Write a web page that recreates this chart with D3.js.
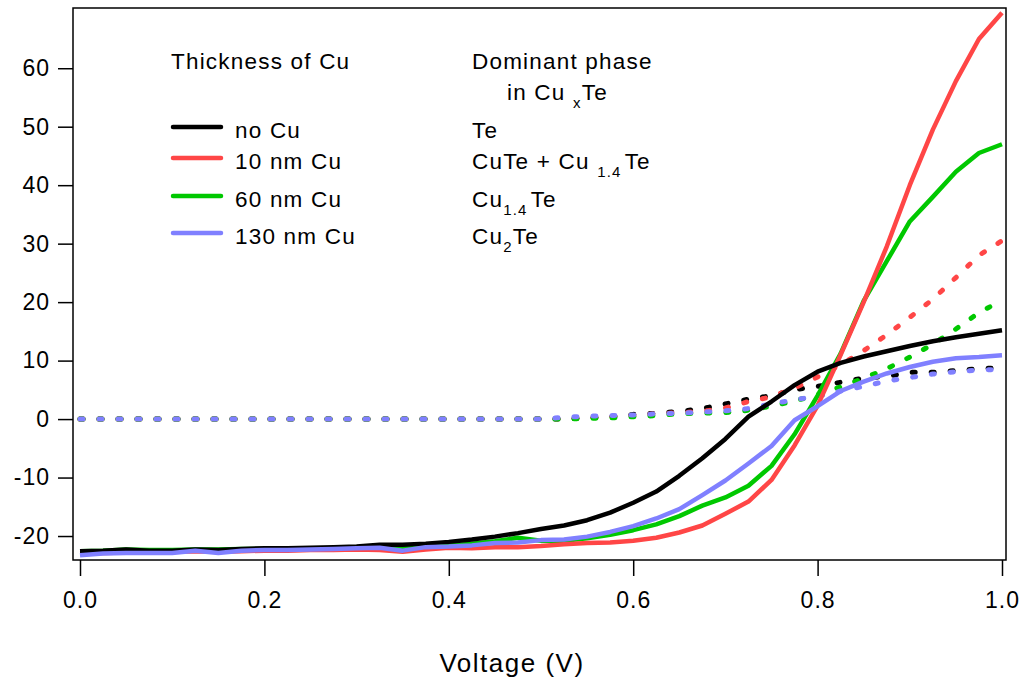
<!DOCTYPE html>
<html>
<head>
<meta charset="utf-8">
<script src="https://cdn.jsdelivr.net/npm/d3@7"></script>
<style>
  body { margin: 0; background: #fff; }
  svg text { font-family: "Liberation Sans", Arial, sans-serif; fill: #000; }
</style>
</head>
<body>
<script>
// J-V curves, light (solid) and dark (dotted), for each Cu thickness

var volts = [0, 0.025, 0.05, 0.075, 0.1, 0.125, 0.15, 0.175, 0.2, 0.225,
             0.25, 0.275, 0.3, 0.325, 0.35, 0.375, 0.4, 0.425, 0.45, 0.475,
             0.5, 0.525, 0.55, 0.575, 0.6, 0.625, 0.65, 0.675, 0.7, 0.725,
             0.75, 0.775, 0.8, 0.825, 0.85, 0.875, 0.9, 0.925, 0.95, 0.975, 1.0];

// light curves
var noCuLight = [-22.6, -22.5, -22.3, -22.5, -22.5, -22.3, -22.4, -22.2, -22.1, -22.1,
                 -22.0, -21.9, -21.8, -21.5, -21.5, -21.3, -21.0, -20.6, -20.1, -19.5,
                 -18.8, -18.2, -17.3, -16.0, -14.3, -12.4, -9.7, -6.7, -3.4, 0.4,
                 3.0, 5.8, 8.1, 9.6, 10.7, 11.6, 12.5, 13.3, 14.0, 14.6, 15.2];
var cu10Light = [-23.0, -22.9, -22.8, -22.8, -22.7, -22.6, -22.7, -22.6, -22.5, -22.5,
                 -22.4, -22.4, -22.3, -22.4, -22.7, -22.3, -22.0, -22.1, -21.9, -21.9,
                 -21.7, -21.4, -21.2, -21.1, -20.8, -20.3, -19.4, -18.2, -16.2, -14.1,
                 -10.4, -4.5, 2.3, 11.0, 20.0, 29.5, 40.0, 49.5, 57.8, 65.0, 69.5];
var cu60Light = [-22.6, -22.5, -22.3, -22.4, -22.4, -22.3, -22.3, -22.2, -22.2, -22.2,
                 -22.1, -22.1, -22.0, -21.9, -22.0, -21.8, -21.6, -21.3, -20.9, -20.3,
                 -20.8, -20.8, -20.4, -19.8, -19.0, -18.0, -16.6, -14.8, -13.4, -11.4,
                 -8.0, -2.6, 4.0, 11.2, 20.2, 27.0, 33.8, 38.0, 42.3, 45.5, 47.0];
var cu130Light = [-23.3, -23.0, -22.9, -22.9, -22.9, -22.5, -22.9, -22.5, -22.4, -22.4,
                  -22.3, -22.2, -22.1, -22.0, -22.5, -21.9, -21.8, -21.6, -21.2, -21.1,
                  -20.7, -20.6, -20.1, -19.3, -18.3, -17.0, -15.4, -13.0, -10.5, -7.6,
                  -4.6, -0.2, 2.2, 4.8, 6.4, 7.8, 8.9, 9.8, 10.4, 10.6, 10.9];

// dark curves
var noCuDark = [0, 0, 0, 0, 0, 0, 0, 0, 0, 0,
                0, 0, 0, 0, 0, 0, 0, 0, 0, 0,
                0, 0.0, 0.2, 0.4, 0.8, 1.0, 1.3, 1.8, 2.6, 3.4,
                4.0, 5.0, 5.6, 6.3, 7.0, 7.3, 8.0, 8.0, 8.3, 8.6, 8.8];
var cu10Dark = [0, 0, 0, 0, 0, 0, 0, 0, 0, 0,
                0, 0, 0, 0, 0, 0, 0, 0, 0, 0,
                0, 0.1, 0.2, 0.4, 0.6, 0.9, 1.1, 1.3, 1.9, 3.0,
                3.8, 5.3, 7.2, 9.3, 11.7, 14.4, 17.4, 20.5, 24.2, 28.0, 30.5];
var cu60Dark = [0, 0, 0, 0, 0, 0, 0, 0, 0, 0,
                0, 0, 0, 0, 0, 0, 0, 0, 0, 0,
                0, 0.0, 0.1, 0.2, 0.4, 0.6, 0.9, 1.0, 1.1, 1.5,
                2.2, 3.1, 4.2, 5.5, 7.0, 8.6, 10.6, 12.8, 15.4, 18.2, 20.3];
var cu130Dark = [0, 0, 0, 0, 0, 0, 0, 0, 0, 0,
                 0, 0, 0, 0, 0, 0, 0, 0, 0, 0,
                 0, 0.3, 0.5, 0.6, 0.7, 0.9, 1.0, 1.2, 1.4, 1.8,
                 2.6, 3.3, 3.9, 4.8, 5.6, 6.5, 7.1, 7.7, 8.1, 8.4, 8.5];

var seriesNames = ['no Cu', '10 nm Cu', '60 nm Cu', '130 nm Cu'];
var seriesColors = ['#000000', '#ff4646', '#00c800', '#8080ff'];
var xTicks = [0, 0.2, 0.4, 0.6, 0.8, 1.0];
var yTicks = [-20, -10, 0, 10, 20, 30, 40, 50, 60];

var width = 1021;
var height = 680;

var svg = d3.select('body').append('svg')
            .attr('width', width)
            .attr('height', height);

var x = d3.scaleLinear().domain([0, 1]).range([80, 1002]);
var y = d3.scaleLinear().domain([-24.1, 70.3]).range([560, 8]);

var line = d3.line()
             .x(function(d) { return x(d[0]); })
             .y(function(d) { return y(d[1]); });

var pairs = function(vals) {
  return vals.map(function(v, i) { return [volts[i], v]; });
};

// dark curves first (dotted), blue ends up on top at 0
var dark = [noCuDark, cu10Dark, cu60Dark, cu130Dark];
dark.forEach(function(vals, i) {
  svg.append('path')
     .attr('d', line(pairs(vals)))
     .attr('fill', 'none')
     .attr('stroke', seriesColors[i])
     .attr('stroke-width', 5)
     .attr('stroke-linecap', 'round')
     .attr('stroke-dasharray', '3 16');
});

// light curves
var light = [cu60Light, cu10Light, noCuLight, cu130Light];
var lightColors = [seriesColors[2], seriesColors[1], seriesColors[0], seriesColors[3]];
light.forEach(function(vals, i) {
  svg.append('path')
     .attr('d', line(pairs(vals)))
     .attr('fill', 'none')
     .attr('stroke', lightColors[i])
     .attr('stroke-width', 4.5)
     .attr('stroke-linejoin', 'round');
});

// frame
svg.append('rect')
   .attr('x', 73).attr('y', 8)
   .attr('width', 933).attr('height', 552)
   .attr('fill', 'none')
   .attr('stroke', '#000')
   .attr('stroke-width', 1.5);

// axes (plain hyphen for negatives, like the original)
var yAxis = svg.append('g')
               .attr('transform', 'translate(73,0)')
               .call(d3.axisLeft(y).tickValues(yTicks).tickSize(15).tickPadding(8)
                       .tickFormat(function(d) { return String(d); }));
var xAxis = svg.append('g')
               .attr('transform', 'translate(0,560)')
               .call(d3.axisBottom(x).tickValues(xTicks).tickSize(16).tickPadding(16)
                       .tickFormat(d3.format('.1f')));

[yAxis, xAxis].forEach(function(ax) {
  ax.select('.domain').remove();
  ax.selectAll('line').attr('stroke', '#000').attr('stroke-width', 1.5);
  ax.selectAll('text')
    .style('font-size', '23px')
    .style('letter-spacing', '1px')
    .style('font-family', '"Liberation Sans", Arial, sans-serif')
    .attr('fill', '#000');
});

svg.append('text')
   .attr('x', 512).attr('y', 672)
   .attr('text-anchor', 'middle')
   .style('font-size', '26px')
   .style('letter-spacing', '1.5px')
   .text('Voltage (V)');

// legend
var legend = svg.append('g')
                .style('font-size', '22.5px')
                .style('letter-spacing', '1.2px');

legend.append('text').attr('x', 171).attr('y', 69).text('Thickness of Cu');
legend.append('text').attr('x', 472).attr('y', 69).text('Dominant phase');

var sub = function(t, parts) {
  parts.forEach(function(p) {
    t.append('tspan')
     .attr('dy', p[1])
     .attr('dx', p[2] || 0)
     .style('font-size', p[1] > 0 ? '15px' : null)
     .text(p[0]);
  });
};

sub(legend.append('text').attr('x', 507).attr('y', 100),
    [['in Cu ', 0], ['x', 8], ['Te', -8]]);

var rowY = [138, 169, 207, 244];
var lineY = [127, 158, 196, 233];

seriesNames.forEach(function(name, i) {
  legend.append('line')
        .attr('x1', 173).attr('x2', 221)
        .attr('y1', lineY[i]).attr('y2', lineY[i])
        .attr('stroke', seriesColors[i])
        .attr('stroke-width', 4.5)
        .attr('stroke-linecap', 'round');
  legend.append('text').attr('x', 235).attr('y', rowY[i]).text(name);
});

legend.append('text').attr('x', 472).attr('y', rowY[0]).text('Te');
sub(legend.append('text').attr('x', 472).attr('y', rowY[1]),
    [['CuTe + Cu ', 0], ['1.4', 8], ['Te', -8, 3]]);
sub(legend.append('text').attr('x', 472).attr('y', rowY[2]),
    [['Cu', 0], ['1.4', 8], ['Te', -8, 3]]);
sub(legend.append('text').attr('x', 472).attr('y', rowY[3]),
    [['Cu', 0], ['2', 8], ['Te', -8]]);
</script>
</body>
</html>
